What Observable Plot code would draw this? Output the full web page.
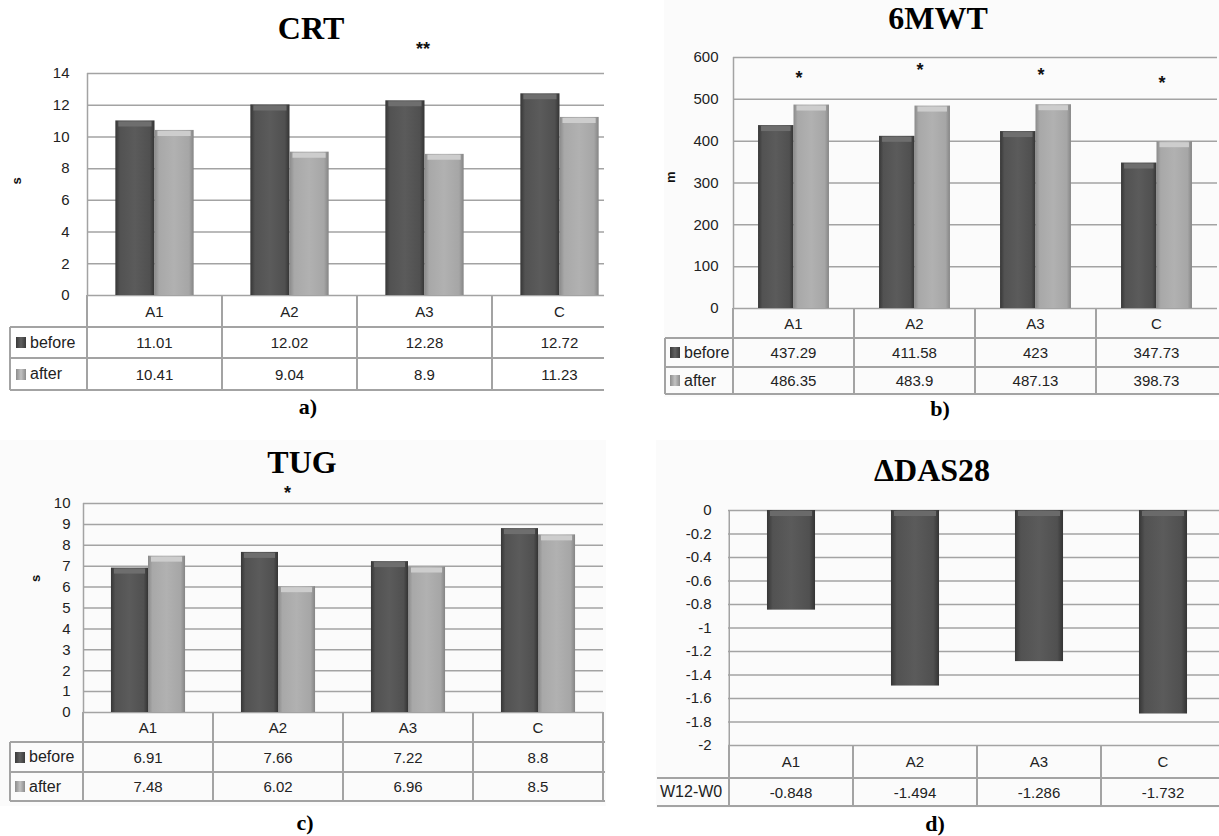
<!DOCTYPE html>
<html>
<head>
<meta charset="utf-8">
<script src="https://cdn.jsdelivr.net/npm/d3@7"></script>
<script src="https://cdn.jsdelivr.net/npm/@observablehq/plot@0.6"></script>
<style>
  body { margin: 0; background: #fff; }
  #root { position: relative; width: 1219px; height: 836px; overflow: hidden; font-family: "Liberation Sans", Arial, sans-serif; color: #222; }
  .title { position: absolute; font-family: "Liberation Serif", "Times New Roman", serif; font-weight: bold; font-size: 32px; line-height: 32px; transform: translateX(-50%); white-space: nowrap; color: #000; }
  .cap { position: absolute; font-family: "Liberation Serif", "Times New Roman", serif; font-weight: bold; font-size: 22px; line-height: 22px; transform: translateX(-50%); white-space: nowrap; color: #000; }
  .hl { position: absolute; height: 1.5px; background: #a3a3a3; }
  .vl { position: absolute; width: 1.5px; background: #a3a3a3; }
  .cell { position: absolute; display: flex; align-items: center; justify-content: center; font-size: 15px; color: #222; white-space: nowrap; }
  .lab { position: absolute; display: flex; align-items: center; font-size: 16px; color: #222; white-space: nowrap; }
  .sw { display: inline-block; width: 10px; height: 11px; margin-right: 4px; }
  .bg { position: absolute; background: #fbfbfb; }
</style>
</head>
<body>
<svg width="0" height="0" style="position:absolute">
  <defs>
    <linearGradient id="gDark" x1="0" x2="1" y1="0" y2="0">
      <stop offset="0" stop-color="#363636"/>
      <stop offset="0.12" stop-color="#525252"/>
      <stop offset="0.5" stop-color="#5b5b5b"/>
      <stop offset="0.88" stop-color="#505050"/>
      <stop offset="1" stop-color="#343434"/>
    </linearGradient>
    <linearGradient id="gLight" x1="0" x2="1" y1="0" y2="0">
      <stop offset="0" stop-color="#8a8a8a"/>
      <stop offset="0.12" stop-color="#a8a8a8"/>
      <stop offset="0.5" stop-color="#b1b1b1"/>
      <stop offset="0.88" stop-color="#a6a6a6"/>
      <stop offset="1" stop-color="#858585"/>
    </linearGradient>
  </defs>
</svg>
<div id="root"></div>
<script>
// ---------------- data ----------------
const groups = ["A1", "A2", "A3", "C"];

const crtBefore = [11.01, 12.02, 12.28, 12.72];
const crtAfter  = [10.41, 9.04, 8.9, 11.23];
const crtTicks  = [0, 2, 4, 6, 8, 10, 12, 14];
const crtStars  = [{group: "A3", y: 15.5, text: "**"}];

const mwtBefore = [437.29, 411.58, 423, 347.73];
const mwtAfter  = [486.35, 483.9, 487.13, 398.73];
const mwtTicks  = [0, 100, 200, 300, 400, 500, 600];
const mwtStars  = [
  {group: "A1", y: 550, text: "*"},
  {group: "A2", y: 569, text: "*"},
  {group: "A3", y: 557, text: "*"},
  {group: "C",  y: 538, text: "*"}
];

const tugBefore = [6.91, 7.66, 7.22, 8.8];
const tugAfter  = [7.48, 6.02, 6.96, 8.5];
const tugTicks  = [0, 1, 2, 3, 4, 5, 6, 7, 8, 9, 10];
const tugStars  = [{group: "A2", y: 10.48, text: "*"}];

const dasDelta  = [-0.848, -1.494, -1.286, -1.732];
const dasTicks  = [0, -0.2, -0.4, -0.6, -0.8, -1, -1.2, -1.4, -1.6, -1.8, -2];

const seriesNames = ["before", "after"];
const dasRowName = "W12-W0";

// ---------------- helpers ----------------
const root = document.getElementById("root");
function el(cls, css, text) {
  const d = document.createElement("div");
  if (cls) d.className = cls;
  d.style.cssText = css;
  if (text != null) d.textContent = text;
  return d;
}
const GRID = "#a3a3a3";
const swatchCss = {
  dark: "background:linear-gradient(to right,#3a3a3a,#606060 50%,#3a3a3a);",
  light: "background:linear-gradient(to right,#8c8c8c,#c2c2c2 50%,#8c8c8c);"
};

function drawPanel(cfg) {
  const wrap = el("", `position:absolute;left:0;top:0;width:${cfg.clipRight}px;height:836px;overflow:hidden;`);
  root.appendChild(wrap);
  const step = (cfg.width - cfg.ml) / groups.length;
  const bw = step * cfg.barFrac;
  const n = cfg.series.length;
  const marks = [
    Plot.gridY(cfg.ticks, {stroke: GRID, strokeOpacity: 1, strokeWidth: 1.5}),
    Plot.ruleX([groups[0]], {dx: -step / 2, stroke: GRID, strokeWidth: 1.5}),
    Plot.axisY(cfg.ticks, {tickSize: 0, tickPadding: cfg.tickPad, tickFormat: d => String(d), fontSize: 15, label: null})
  ];
  cfg.series.forEach((s, i) => {
    const data = groups.map((g, j) => ({group: g, value: s.values[j]}));
    const left = step / 2 - (n * bw) / 2 + i * bw;
    const insetLeft = left, insetRight = step - left - bw;
    marks.push(Plot.barY(data, {x: "group", y: "value", fill: s.fill, insetLeft, insetRight}));
    marks.push(Plot.tickY(data, {x: "group", y: s.capZero ? () => 0 : "value", stroke: s.cap, strokeWidth: 5, dy: 3,
      insetLeft: insetLeft + 3, insetRight: insetRight + 3}));
  });
  if (cfg.stars) {
    marks.push(Plot.text(cfg.stars, {x: "group", y: "y", text: "text", dx: cfg.starDx, fontSize: 18, fontWeight: "bold", fill: "#111"}));
  }
  if (cfg.unit) {
    marks.push(Plot.text([cfg.unit], {text: d => d, frameAnchor: "left", dx: cfg.unitDx, dy: cfg.unitDy, rotate: -90, fontSize: 13, fontWeight: "bold", fill: "#111"}));
  }
  const plot = Plot.plot({
    width: cfg.width,
    height: cfg.height,
    marginLeft: cfg.ml, marginRight: 0, marginTop: cfg.mt, marginBottom: 1,
    x: {domain: groups, padding: 0, axis: null},
    y: {domain: cfg.domain, label: null},
    style: {background: "transparent", fontFamily: "Liberation Sans, Arial, sans-serif", fontSize: "15px", color: "#222", overflow: "visible", maxWidth: "none"},
    marks
  });
  plot.style.position = "absolute";
  plot.style.left = cfg.left + "px";
  plot.style.top = cfg.top + "px";
  plot.style.maxWidth = "none";
  plot.style.width = cfg.width + "px";
  plot.style.height = cfg.height + "px";
  wrap.appendChild(plot);

  // ---- data table below the chart, aligned on the x scale ----
  const sx = plot.scale("x");
  const cols = groups.map(g => cfg.left + sx.apply(g));
  const bwid = sx.bandwidth;
  const xEnd = cols[cols.length - 1] + bwid;
  const rowTops = [cfg.tableTop];
  cfg.rowH.forEach(h => rowTops.push(rowTops[rowTops.length - 1] + h));
  const yBot = rowTops[rowTops.length - 1];
  const xLineEnd = cfg.rightBorder ? xEnd + 1.5 : xEnd + 10;
  for (let i = 1; i < rowTops.length; i++) {
    wrap.appendChild(el("hl", `left:${cfg.tableLeft}px;top:${rowTops[i] - 0.75}px;width:${xLineEnd - cfg.tableLeft}px;`));
  }
  cols.forEach(x => wrap.appendChild(el("vl", `left:${x - 0.75}px;top:${rowTops[0]}px;height:${yBot - rowTops[0]}px;`)));
  if (cfg.rightBorder) wrap.appendChild(el("vl", `left:${xEnd - 0.75}px;top:${rowTops[0]}px;height:${yBot - rowTops[0]}px;`));
  if (cfg.leftBorder) wrap.appendChild(el("vl", `left:${cfg.tableLeft - 0.75}px;top:${rowTops[1]}px;height:${yBot - rowTops[1]}px;`));
  groups.forEach((g, j) => wrap.appendChild(el("cell", `left:${cols[j]}px;top:${rowTops[0]}px;width:${bwid}px;height:${cfg.rowH[0]}px;`, g)));
  cfg.rows.forEach((r, i) => {
    const lab = el("lab", `left:${cfg.tableLeft + cfg.labelPad}px;top:${rowTops[i + 1]}px;height:${cfg.rowH[i + 1]}px;`);
    if (r.swatch) {
      const sw = document.createElement("span");
      sw.className = "sw";
      sw.style.cssText = swatchCss[r.swatch];
      lab.appendChild(sw);
    }
    lab.appendChild(document.createTextNode(r.label));
    wrap.appendChild(lab);
    r.values.forEach((v, j) => wrap.appendChild(el("cell", `left:${cols[j]}px;top:${rowTops[i + 1]}px;width:${bwid}px;height:${cfg.rowH[i + 1]}px;`, String(v))));
  });
}

// ---------------- backgrounds ----------------
root.appendChild(el("bg", "left:664px;top:0;width:555px;height:397px;"));
root.appendChild(el("bg", "left:0;top:440px;width:606px;height:366px;"));
root.appendChild(el("bg", "left:656px;top:440px;width:563px;height:368px;"));

// ---------------- panel a: CRT ----------------
drawPanel({
  left: 0, top: 30, width: 627, height: 266, ml: 87, mt: 43, clipRight: 604,
  domain: [0, 14], ticks: crtTicks, tickPad: 18, barFrac: 0.29,
  series: [
    {values: crtBefore, fill: "url(#gDark)", cap: "#6e6e6e"},
    {values: crtAfter, fill: "url(#gLight)", cap: "#cdcdcd"}
  ],
  stars: crtStars, starDx: -2,
  unit: "s", unitDx: -71, unitDy: 0,
  tableLeft: 10, tableTop: 295, rowH: [32, 31, 32], labelPad: 6, leftBorder: true, rightBorder: false,
  rows: [
    {label: seriesNames[0], swatch: "dark", values: crtBefore},
    {label: seriesNames[1], swatch: "light", values: crtAfter}
  ]
});

// ---------------- panel b: 6MWT ----------------
drawPanel({
  left: 610, top: 0, width: 607, height: 309, ml: 123, mt: 57, clipRight: 1219,
  domain: [0, 600], ticks: mwtTicks, tickPad: 15, barFrac: 0.293,
  series: [
    {values: mwtBefore, fill: "url(#gDark)", cap: "#6e6e6e"},
    {values: mwtAfter, fill: "url(#gLight)", cap: "#cdcdcd"}
  ],
  stars: mwtStars, starDx: 5,
  unit: "m", unitDx: -63, unitDy: 0,
  tableLeft: 665, tableTop: 308, rowH: [30, 29, 27], labelPad: 5, leftBorder: true, rightBorder: false,
  rows: [
    {label: seriesNames[0], swatch: "dark", values: mwtBefore},
    {label: seriesNames[1], swatch: "light", values: mwtAfter}
  ]
});

// ---------------- panel c: TUG ----------------
drawPanel({
  left: 0, top: 480, width: 603, height: 233, ml: 83, mt: 23, clipRight: 606,
  domain: [0, 10], ticks: tugTicks, tickPad: 13, barFrac: 0.285,
  series: [
    {values: tugBefore, fill: "url(#gDark)", cap: "#6e6e6e"},
    {values: tugAfter, fill: "url(#gLight)", cap: "#cdcdcd"}
  ],
  stars: tugStars, starDx: 9,
  unit: "s", unitDx: -48, unitDy: -26,
  tableLeft: 10, tableTop: 712, rowH: [30, 30, 29], labelPad: 5, leftBorder: true, rightBorder: true,
  rows: [
    {label: seriesNames[0], swatch: "dark", values: tugBefore},
    {label: seriesNames[1], swatch: "light", values: tugAfter}
  ]
});

// ---------------- panel d: ΔDAS28 ----------------
drawPanel({
  left: 610, top: 500, width: 616, height: 246, ml: 118, mt: 10, clipRight: 1219,
  domain: [-2, 0], ticks: dasTicks, tickPad: 17, barFrac: 0.39,
  series: [
    {values: dasDelta, fill: "url(#gDark)", cap: "#6a6a6a", capZero: true}
  ],
  tableLeft: 657, tableTop: 745, rowH: [33, 28], labelPad: 3, leftBorder: false, rightBorder: false,
  rows: [
    {label: dasRowName, swatch: null, values: dasDelta}
  ]
});

// ---------------- titles & captions ----------------
root.appendChild(el("title", "left:311px;top:12px;", "CRT"));
root.appendChild(el("title", "left:938px;top:2px;", "6MWT"));
root.appendChild(el("title", "left:302px;top:446px;", "TUG"));
root.appendChild(el("title", "left:932px;top:454px;", "ΔDAS28"));
root.appendChild(el("cap", "left:308px;top:396px;", "a)"));
root.appendChild(el("cap", "left:940px;top:398px;", "b)"));
root.appendChild(el("cap", "left:305px;top:812px;", "c)"));
root.appendChild(el("cap", "left:935px;top:813px;", "d)"));
</script>
</body>
</html>
